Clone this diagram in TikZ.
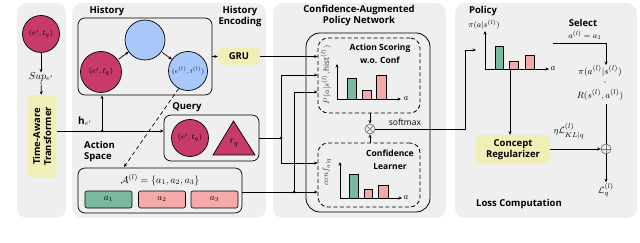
\documentclass[tikz,border=0pt]{standalone}
\usepackage{fontspec}
\setmainfont{Open Sans}
\usetikzlibrary{arrows.meta,calc}
\definecolor{panel}{RGB}{239,239,239}
\definecolor{mag}{RGB}{200,58,108}
\definecolor{bluec}{RGB}{168,200,250}
\definecolor{yel}{RGB}{241,239,183}
\definecolor{grn}{RGB}{122,184,160}
\definecolor{pnk}{RGB}{245,170,170}
\begin{document}
\begin{tikzpicture}[x=1pt,y=-1pt,
  arr/.style={-{Stealth[length=3.5pt,width=3pt]}},
  ln/.style={line width=0.7pt},
  lab/.style={font=\bfseries\fontsize{9.5}{11}\selectfont, inner sep=0pt, align=center},
  mathlab/.style={font=\fontsize{8.5}{10}\selectfont, inner sep=0pt},
  magc/.style={circle, draw, line width=0.7pt, fill=mag, inner sep=0pt, font=\fontsize{8}{9}\selectfont},
  bluc/.style={circle, draw, line width=0.7pt, fill=bluec, inner sep=0pt, text=blue!40!black, font=\fontsize{6.5}{7}\selectfont},
  rbox/.style={draw, line width=0.7pt, rounded corners=7pt, inner sep=0pt},
  ybox/.style={fill=yel, rounded corners=4pt, inner sep=0pt, font=\bfseries\fontsize{9.5}{11}\selectfont, align=center},
  abtn/.style={draw, line width=0.6pt, rounded corners=2pt, minimum width=47pt, minimum height=17pt, inner sep=0pt, font=\fontsize{9}{10}\selectfont},
  dbox/.style={draw, dashed, dash pattern=on 4pt off 2.5pt, line width=0.8pt, rounded corners=10pt, inner sep=0pt},
  bar/.style={draw, line width=0.6pt},
  dot/.style={circle, fill, inner sep=0pt, minimum size=3pt}
]
\useasboundingbox (0,0) rectangle (640,243);
% panels
\fill[panel, rounded corners=10pt] (17,3) rectangle (66,218);
\fill[panel, rounded corners=10pt] (72,3) rectangle (266,218);
\fill[panel, rounded corners=10pt] (273,3) rectangle (446,218);
\fill[panel, rounded corners=10pt] (455,3) rectangle (637,218);

% left panel
\node[magc, minimum size=37pt] (eq0) at (41,34) {$(e',t_q)$};
\node[mathlab, font=\fontsize{10}{11}\selectfont] (sup) at (41,77) {$Sup_{e'}$};
\node[ybox, rotate=90, minimum width=83pt, minimum height=29pt] (tat) at (42,136.5) {Time-Aware\\Transformer};
\draw[ln, arr] (eq0) -- (sup);
\draw[ln, arr] (sup) -- (tat);

% history
\node[lab] (histlab) at (107,11) {History};
\node[rbox, minimum width=134pt, minimum height=77pt] (hist) at (145,56.5) {};
\node[magc, minimum size=41pt] (hm) at (101,72) {$(e',t_q)$};
\node[bluc, minimum size=40pt] (ht) at (145,40) {};
\node[bluc, minimum size=39pt] (hr) at (188,71) {$(e^{(l)},t^{(l)})$};
\draw[ln, arr, shorten <=1pt] (hm) -- (ht);
\draw[ln, arr, shorten <=1pt] (ht) -- (hr);
\node[lab] (helab) at (240,17) {History\\Encoding};
\node[ybox, minimum width=42pt, minimum height=17pt] (gru) at (239,56.5) {GRU};
\draw[ln, arr] (hist.east |- gru) -- (gru);

% query
\node[lab] (qlab) at (187,107) {Query};
\node[rbox, minimum width=95pt, minimum height=46pt] (query) at (211.5,138) {};
\node[magc, minimum size=37pt] (qc) at (190,138) {$(e',t_q)$};
\draw[ln, fill=mag] (213,155) -- (233.5,121) -- (255,155) -- cycle;
\node[mathlab, font=\fontsize{10}{11}\selectfont] (rq) at (234,143) {$r_q$};

% action space
\node[lab, align=left, anchor=west] (aslab) at (84,152) {Action\\Space};
\node[rbox, minimum width=164pt, minimum height=45pt] (abox) at (160,190.5) {};
\node[mathlab, font=\fontsize{10}{11}\selectfont] (aset) at (160,180) {$\mathcal{A}^{(l)}=\{a_1,a_2,a_3\}$};
\node[abtn, fill=grn] (a1) at (108.5,199.5) {$a_1$};
\node[abtn, fill=pnk] (a2) at (162,199.5) {$a_2$};
\node[abtn, fill=pnk] (a3) at (214.5,199.5) {$a_3$};
\coordinate (dtip) at (124,167);
\draw[ln, dashed, dash pattern=on 4pt off 3pt, arr] (hr.242) -- (dtip);

% h_e' line
\coordinate (hj) at (102,131);
\node[mathlab, font=\fontsize{10}{11}\selectfont] (hlab) at (85,121) {$\mathbf{h}_{e'}$};
\draw[ln] (tat.south |- hj) -- (hj);
\draw[ln, arr] (hj) -- (query.west |- hj);
\draw[ln, arr] (hj) -- (hj |- hist.south);
\node[dot] at (hj) {};

% policy network
\node[lab, font=\bfseries\fontsize{9.5}{11}\selectfont] (pnlab) at (359,16) {Confidence-Augmented\\Policy Network};
\node[draw, line width=0.8pt, rounded corners=14pt, minimum width=124pt, minimum height=179pt] (pnet) at (368,122.5) {};
\node[dbox, minimum width=102pt, minimum height=75pt] (ud) at (369,75.5) {};
\node[dbox, minimum width=102pt, minimum height=64pt] (ld) at (369,175) {};
\node[lab, font=\bfseries\fontsize{8.5}{12.5}\selectfont] (astext) at (380,54) {Action Scoring\\w.o. Conf};
\node[lab, font=\bfseries\fontsize{8.5}{12.5}\selectfont] (cltext) at (390,160) {Confidence\\Learner};

% upper chart
\node[mathlab, rotate=90, font=\fontsize{8}{9}\selectfont, text=black!80] (pylab) at (326,75) {$P(a|s^{(l)},\mathrm{hist}^{(l)})$};
\coordinate (uo) at (337,99);
\draw[line width=0.7pt, arr] (uo) -- (337,64);
\draw[line width=0.7pt, arr] (uo) -- (401,99);
\node[mathlab, font=\fontsize{9}{10}\selectfont] (ua) at (406,99) {$a$};
\draw[bar, fill=grn] (347,99) rectangle (356,78);
\draw[bar, fill=pnk] (362,99) rectangle (371,90);
\draw[bar, fill=pnk] (376,99) rectangle (386,75);

% lower chart
\node[mathlab, rotate=90, font=\fontsize{8}{9}\selectfont, text=black!80] (cylab) at (327,172) {$conf_{a|q}$};
\coordinate (lo) at (340,198);
\draw[line width=0.7pt, arr] (lo) -- (340,162);
\draw[line width=0.7pt, arr] (lo) -- (402,198);
\node[mathlab, font=\fontsize{9}{10}\selectfont] (la) at (406,198) {$a$};
\draw[bar, fill=grn] (349,198) rectangle (358,174);
\draw[bar, fill=pnk] (364,198) rectangle (372,189);
\draw[bar, fill=pnk] (378,198) rectangle (388,185);

% softmax
\node[circle, draw=black!55, line width=0.7pt, minimum size=10pt, inner sep=0pt] (sm) at (370,129) {};
\draw[black!55, line width=0.6pt] (sm.45) -- (sm.225) (sm.135) -- (sm.315);
\node[font=\fontsize{8.5}{10}\selectfont, inner sep=0pt] (smlab) at (405,122) {softmax};
\draw[ln, arr] (sm |- ud.south) -- (sm);
\draw[ln, arr] (sm |- ld.north) -- (sm);

% input lines to policy net
\draw[ln, arr] (gru.east) -- (ud.west |- gru);
\coordinate (qj) at (281,138);
\coordinate (qu) at (281,75);
\coordinate (qd) at (281,163);
\draw[ln] (query.east |- qj) -- (qj);
\draw[ln, arr] (qj) -- (qu) -- (ud.west |- qu);
\draw[ln, arr] (qj) -- (qd) -- (ld.west |- qd);
\node[dot] at (qj) {};
\coordinate (aj) at (294,192);
\coordinate (au) at (294,92);
\draw[ln] (abox.east |- aj) -- (aj);
\draw[ln, arr] (aj) -- (ld.west |- aj);
\draw[ln, arr] (aj) -- (au) -- (ud.west |- au);
\node[dot] at (aj) {};

% policy panel
\node[lab] (pollab) at (483,11) {Policy};
\node[mathlab] (pilab) at (484,25) {$\pi(a|s^{(l)})$};
\coordinate (po) at (485,69);
\draw[line width=0.8pt, arr] (po) -- (485,31);
\draw[line width=0.8pt, arr] (po) -- (549,69);
\node[mathlab, font=\fontsize{9}{10}\selectfont] (pa) at (553,69) {$a$};
\draw[bar, fill=grn] (495,69) rectangle (503,46);
\draw[bar, fill=pnk] (509,69) rectangle (518,61);
\draw[bar, fill=pnk] (525,69) rectangle (534,55);
\coordinate (sx) at (465,129);
\coordinate (pin) at (476,50);
\draw[ln, arr] (sm) -- (sx) |- (pin);

\node[ybox, minimum width=74pt, minimum height=29pt] (creg) at (513,149.5) {Concept\\Regularizer};
\coordinate (pb) at (510,69);
\draw[ln, arr] (pb) -- (pb |- creg.north);

\node[lab] (sellab) at (583,23) {Select};
\node[mathlab] (selmath) at (585,35) {$a^{(l)}=a_1$};
\node[mathlab, font=\fontsize{9.5}{11}\selectfont] (pitext) at (600,71) {$\pi(a^{(l)}|s^{(l)})$};
\node[circle, fill, inner sep=0pt, minimum size=1.3pt] (cdot) at (605,82) {};
\node[mathlab, font=\fontsize{9.5}{11}\selectfont] (rtext) at (600,95) {$R(s^{(l)},a^{(l)})$};
\node[circle, draw=black!55, line width=0.7pt, minimum size=10pt, inner sep=0pt] (op) at (606,149) {};
\draw[black!55, line width=0.6pt] (op.north) -- (op.south) (op.west) -- (op.east);
\coordinate (sl) at (553,43);
\coordinate (sr) at (606,43);
\draw[ln, arr] (sl) -- (sr) -- (sr |- pitext.north);
\draw[ln] (op |- rtext.south) ++(0,3) -- (op);
\draw[ln, arr] (creg.east |- op) -- (op);
\node[mathlab, font=\fontsize{9.5}{11}\selectfont] (kl) at (569,131) {$\eta\mathcal{L}^{(l)}_{KL|q}$};
\node[mathlab, font=\fontsize{9.5}{11}\selectfont] (lq) at (606,190) {$\mathcal{L}^{(l)}_{q}$};
\draw[ln, arr, shorten >=1pt] (op) -- (lq.north -| op);
\node[lab] (losslab) at (519,204) {Loss Computation};
\end{tikzpicture}
\end{document}
